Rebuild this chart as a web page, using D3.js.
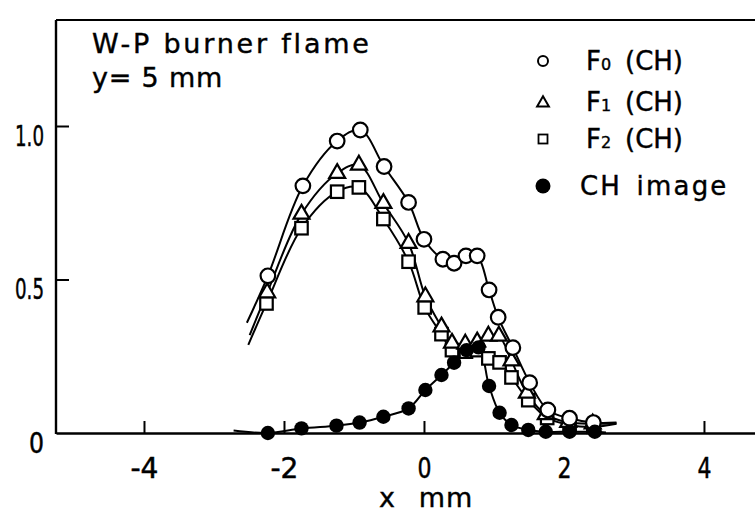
<!DOCTYPE html>
<html><head><meta charset="utf-8">
<script src="https://cdn.jsdelivr.net/npm/d3@7"></script>
<style>body{margin:0;background:#fff}svg{display:block}</style>
</head><body><svg id="c" width="755" height="516"></svg>
<script>
// ---- data ----
const xF0 = [-2.23,-1.73,-1.24,-0.91,-0.57,-0.22,0.0,0.27,0.43,0.60,0.76,0.93,1.06,1.27,1.51,1.77,2.08,2.42];
const yF0 = [0.512,0.805,0.951,0.987,0.868,0.751,0.631,0.566,0.553,0.577,0.577,0.466,0.377,0.278,0.164,0.075,0.048,0.034];
const xF1 = [-2.24,-1.75,-1.24,-0.93,-0.58,-0.22,0.02,0.25,0.40,0.59,0.76,0.92,1.07,1.25,1.47,1.74,2.06,2.41];
const yF1 = [0.457,0.713,0.846,0.873,0.748,0.618,0.444,0.346,0.293,0.290,0.297,0.316,0.316,0.235,0.130,0.060,0.035,0.030];
const xF2 = [-2.25,-1.75,-1.24,-0.93,-0.58,-0.22,0.01,0.25,0.40,0.60,0.76,0.92,1.08,1.25,1.49,1.76,2.08,2.42];
const yF2 = [0.422,0.667,0.786,0.800,0.697,0.558,0.409,0.322,0.270,0.265,0.270,0.243,0.230,0.181,0.107,0.049,0.026,0.020];
const xCH = [-2.23,-1.75,-1.25,-0.92,-0.58,-0.22,0.02,0.25,0.43,0.61,0.78,0.93,1.08,1.25,1.49,1.74,2.08,2.44];
const yCH = [0.0,0.015,0.024,0.034,0.053,0.080,0.140,0.189,0.229,0.270,0.279,0.153,0.066,0.026,0.010,0.004,0.004,0.004];
// ends of the fitted curves (extend beyond the markers)
const f0Ends = [[-2.53,0.359],[2.75,0.034]];
const f1Ends = [[-2.49,0.319],[2.75,0.032]];
const f2Ends = [[-2.51,0.287],[2.75,0.030]];
const chEnds = [[-2.72,0.008],[2.60,0.002]];
const xTicks = [-4,-2,0,2,4];
const xTickLabels = ["-4","-2","0","2","4"];
const yTicks = [0,0.5,1.0];
const yTickLabels = ["0","0.5","1.0"];
const seriesNames = ["0","1","2"]; // subscripts of F(CH)
const titleLines = ["W-P burner flame","y= 5 mm"];

// ---- layout ----
const svg = d3.select("#c");
const FONT = "'DejaVu Sans', sans-serif";
const x = d3.scaleLinear().domain([-5.257, 4.729]).range([56, 755]);
const y = d3.scaleLinear().domain([0, 1.0]).range([433, 126]);
const yTop = y.invert(20);

// frame lines
svg.append("line").attr("x1",x.range()[0]).attr("x2",x.range()[1]).attr("y1",y(yTop)).attr("y2",y(yTop))
  .attr("stroke","#000").attr("stroke-width",2.2);
svg.append("line").attr("x1",x.range()[0]).attr("x2",x.range()[0]).attr("y1",y(yTop)).attr("y2",y(0)+1)
  .attr("stroke","#000").attr("stroke-width",2.4);

// x axis
const gx = svg.append("g").attr("transform",`translate(0,${y(0)})`)
  .call(d3.axisBottom(x).tickValues(xTicks).tickSizeInner(-12).tickSizeOuter(0).tickPadding(0)
    .tickFormat((d,i)=>xTickLabels[i]));
gx.select(".domain").attr("stroke-width",2.6);
gx.selectAll(".tick line").attr("stroke-width",2);
gx.selectAll(".tick text").attr("font-family",FONT).attr("font-size",29).attr("fill","#000")
  .attr("stroke","#000").attr("stroke-width",0.5)
  .attr("dy",null).attr("y",45)
  .attr("textLength",(d,i)=>xTickLabels[i].length*14)
  .attr("lengthAdjust","spacingAndGlyphs");

// y axis
const gy = svg.append("g").attr("transform",`translate(${x.range()[0]},0)`)
  .call(d3.axisLeft(y).tickValues(yTicks).tickSizeInner(-13).tickSizeOuter(0).tickPadding(0)
    .tickFormat((d,i)=>yTickLabels[i]));
gy.select(".domain").remove();
gy.selectAll(".tick line").attr("stroke-width",2).filter(d=>d===0).remove();
gy.selectAll(".tick text").attr("font-family",FONT).attr("font-size",29).attr("fill","#000")
  .attr("stroke","#000").attr("stroke-width",0.5)
  .attr("dy",null).attr("x",-12).attr("y",19)
  .attr("textLength",(d,i)=>yTickLabels[i].length===1?15:29)
  .attr("lengthAdjust","spacingAndGlyphs");

// axis title
svg.append("text").attr("x",387).attr("y",507).attr("font-family",FONT).attr("font-size",27)
  .attr("text-anchor","middle").attr("stroke","#000").attr("stroke-width",0.4).text("x");
svg.append("text").attr("x",446).attr("y",507).attr("font-family",FONT).attr("font-size",27)
  .attr("text-anchor","middle").attr("letter-spacing",1).attr("stroke","#000").attr("stroke-width",0.4).text("mm");

// curves
const line = d3.line().x(d=>x(d[0])).y(d=>y(d[1])).curve(d3.curveCatmullRom.alpha(0.5));
function curveData(xs, ys, ends){
  return [ends[0], ...xs.map((v,i)=>[v,ys[i]]), ends[1]];
}
const plot = svg.append("g");
[[xF0,yF0,f0Ends],[xF1,yF1,f1Ends],[xF2,yF2,f2Ends],[xCH,yCH,chEnds]].forEach(([xs,ys,e])=>{
  plot.append("path").attr("d",line(curveData(xs,ys,e))).attr("fill","none")
    .attr("stroke","#000").attr("stroke-width",2);
});

// markers
const pts = (xs,ys)=>xs.map((v,i)=>({x:v,y:ys[i]}));
const sq = 12.5;
plot.selectAll(".sq").data(pts(xF2,yF2)).join("rect")
  .attr("x",d=>x(d.x)-sq/2).attr("y",d=>y(d.y)-sq/2).attr("width",sq).attr("height",sq)
  .attr("fill","#fff").attr("stroke","#000").attr("stroke-width",2.2);
const tri = d3.symbol().type(d3.symbolTriangle).size(110);
plot.selectAll(".tri").data(pts(xF1,yF1)).join("path")
  .attr("d",tri).attr("transform",d=>`translate(${x(d.x)},${y(d.y)})`)
  .attr("fill","#fff").attr("stroke","#000").attr("stroke-width",2.2);
plot.selectAll(".oc").data(pts(xF0,yF0)).join("circle")
  .attr("cx",d=>x(d.x)).attr("cy",d=>y(d.y)).attr("r",7.3)
  .attr("fill","#fff").attr("stroke","#000").attr("stroke-width",2.2);
plot.selectAll(".fc").data(pts(xCH,yCH)).join("circle")
  .attr("cx",d=>x(d.x)).attr("cy",d=>y(d.y)).attr("r",7.2).attr("fill","#000");

// title
titleLines.forEach((t,i)=>{
  svg.append("text").attr("x",92).attr("y",i===0?53:87).attr("font-family",FONT)
    .attr("font-size",27).attr("letter-spacing",i===0?2.8:0.8).attr("fill","#000")
    .attr("stroke","#000").attr("stroke-width",0.4).text(t);
});

// legend
const lg = svg.append("g");
const lx = 543, rows = [61,102,139,186];
lg.append("circle").attr("cx",lx).attr("cy",rows[0]).attr("r",5).attr("fill","#fff").attr("stroke","#000").attr("stroke-width",2);
lg.append("path").attr("d",d3.symbol().type(d3.symbolTriangle).size(60)).attr("transform",`translate(${lx},${rows[1]+1})`)
  .attr("fill","#fff").attr("stroke","#000").attr("stroke-width",2);
lg.append("rect").attr("x",lx-4.5).attr("y",rows[2]-4.5).attr("width",9).attr("height",9)
  .attr("fill","#fff").attr("stroke","#000").attr("stroke-width",1.8);
lg.append("circle").attr("cx",lx).attr("cy",rows[3]).attr("r",7.5).attr("fill","#000");
seriesNames.forEach((s,i)=>{
  const t = lg.append("text").attr("x",586).attr("y",rows[i]+9).attr("font-family",FONT)
    .attr("font-size",26).attr("fill","#000").attr("stroke","#000").attr("stroke-width",0.4);
  t.append("tspan").text("F");
  t.append("tspan").attr("font-size",16).attr("dx",0).text(s);
  t.append("tspan").attr("x",625).text("(CH)");
});
lg.append("text").attr("x",580).attr("y",rows[3]+9).attr("font-family",FONT).attr("font-size",26)
  .attr("letter-spacing",2.2).attr("word-spacing",4).attr("fill","#000")
  .attr("stroke","#000").attr("stroke-width",0.4).text("CH image");
</script></body></html>
